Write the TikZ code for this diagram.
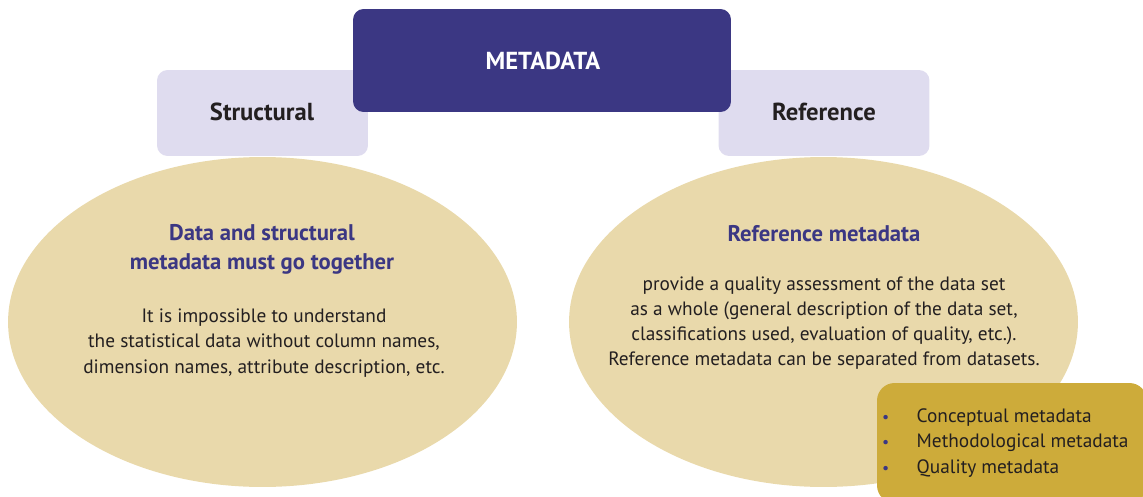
\documentclass[tikz,border=0pt]{standalone}
\usepackage{fontspec}
\setmainfont{PT Sans}
\usetikzlibrary{shapes.geometric}

\definecolor{metaBlue}{HTML}{3B3783}
\definecolor{lavender}{HTML}{DFDCEF}
\definecolor{sand}{HTML}{E9D9AB}
\definecolor{gold}{HTML}{CDAB3A}
\definecolor{ink}{HTML}{231F20}

\newcommand{\dotitem}[1]{\makebox[0.69cm][l]{\textcolor{metaBlue}{\small\textbullet}}#1}

\begin{document}
\begin{tikzpicture}[x=0.02cm,y=-0.02cm,
    box/.style={rectangle, rounded corners=6pt, inner sep=0pt},
    blob/.style={ellipse, fill=sand, inner sep=0pt, minimum width=10.18cm, minimum height=6.6cm},
    title/.style={font=\bfseries\fontsize{14}{16}\selectfont, text=ink},
    heading/.style={font=\bfseries\fontsize{12.9}{16.4}\selectfont, text=metaBlue, align=center},
    body/.style={font=\fontsize{11}{14.3}\selectfont, text=ink, align=center}]

  \useasboundingbox (0,0) rectangle (1143,497);

  % the two kinds of metadata
  \begin{scope}[every node/.style={box, fill=lavender, minimum width=4.22cm, minimum height=1.72cm}]
    \node (structural) at (262.5,113) {};
    \node (reference)  at (824,113) {};
  \end{scope}

  \node[box, fill=metaBlue, minimum width=7.56cm, minimum height=2.06cm] (metadata) at (542,60.5) {};
  \node[title, text=white] (metadatalabel) at (543,61) {METADATA};
  \node[title] (structurallabel) at (262,112) {Structural};
  \node[title] (referencelabel) at (824,112) {Reference};

  % descriptions
  \node[blob] (left)  at (262.5,322) {};
  \node[blob] (right) at (823.5,322) {};

  \node[heading] (datahead) at (262,249) {Data and structural\\metadata must go together};
  \node[body] (datatext) at (264,343) {It is impossible to understand\\the statistical data without column names,\\dimension names, attribute description, etc.};

  \node[heading] (refhead) at (824,234) {Reference metadata};
  \node[body] (reftext) at (824,323) {provide a quality assessment of the data set\\as a whole (general description of the data set,\\classifications used, evaluation of quality, etc.).\\Reference metadata can be separated from datasets.};

  % kinds of reference metadata
  \node[box, rounded corners=10pt, fill=gold, minimum width=5.4cm, minimum height=2.4cm] (kinds) at (1012,443) {};
  \node[body, align=left, anchor=west] (kindlist) at (876,443)
    {\dotitem{Conceptual metadata}\\\dotitem{Methodological metadata}\\\dotitem{Quality metadata}};

\end{tikzpicture}
\end{document}
